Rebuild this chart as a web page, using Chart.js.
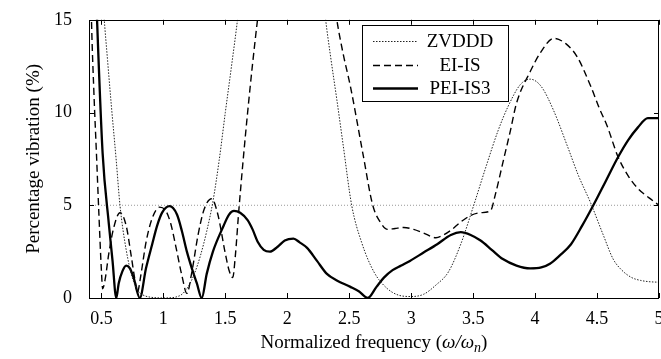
<!DOCTYPE html>
<html>
<head>
<meta charset="utf-8">
<script src="https://cdn.jsdelivr.net/npm/chart.js@4.4.0/dist/chart.umd.min.js"></script>
<style>
  html, body { margin: 0; padding: 0; background: #fff; }
  #wrap { width: 661px; height: 359px; }
</style>
</head>
<body>
<div id="wrap"><canvas id="chart" width="661" height="359"></canvas></div>
<script>
// tick labels
var xTicks = [0.5, 1, 1.5, 2, 2.5, 3, 3.5, 4, 4.5, 5];
var yTicks = [0, 5, 10, 15];

// ZVDDD (dotted)
var zvdddX = [0.50, 0.52, 0.55, 0.58, 0.62, 0.65, 0.70, 0.75, 0.80, 0.85, 0.90, 0.95, 1.00, 1.05, 1.10, 1.15, 1.20, 1.25, 1.30, 1.35, 1.40, 1.45, 1.50, 1.55, 1.60, 1.63,
              2.28, 2.31, 2.35, 2.40, 2.45, 2.52, 2.60, 2.70, 2.80, 2.90, 3.00, 3.10, 3.20, 3.30, 3.40, 3.50, 3.60, 3.70, 3.78, 3.88, 3.96, 4.05, 4.15, 4.26, 4.35, 4.45, 4.55, 4.63, 4.70, 4.78, 4.85, 4.92, 5.00];
var zvdddY = [17.5, 15.3, 12.8, 10.4, 7.4, 5.0, 2.6, 1.1, 0.35, 0.12, 0.04, 0.01, 0, 0.01, 0.05, 0.2, 0.6, 1.3, 2.3, 3.6, 5.2, 7.4, 10.0, 12.5, 15.1, 17,
              17, 15, 13, 10.7, 8.3, 5.0, 3.0, 1.4, 0.55, 0.15, 0.08, 0.2, 0.7, 1.4, 2.9, 4.9, 7.0, 9.0, 10.3, 11.5, 11.8, 11.4, 10.1, 8.2, 6.6, 5.1, 3.4, 2.1, 1.5, 1.1, 0.95, 0.88, 0.85];

// EI-IS (dashed)
var eiisX = [0.40, 0.42, 0.44, 0.46, 0.48, 0.50, 0.51, 0.53, 0.56, 0.60, 0.65, 0.70, 0.74, 0.77, 0.79, 0.82, 0.86, 0.91, 0.97, 1.02, 1.06, 1.10, 1.15, 1.19, 1.23, 1.28, 1.33, 1.39, 1.44, 1.50, 1.53, 1.56, 1.58, 1.61, 1.68, 1.76, 1.80,
             2.36, 2.40, 2.45, 2.51, 2.61, 2.69, 2.75, 2.81, 2.87, 2.94, 3.02, 3.10, 3.20, 3.26, 3.32, 3.40, 3.48, 3.56, 3.64, 3.68, 3.74, 3.80, 3.85, 3.96, 4.05, 4.15, 4.25, 4.34, 4.45, 4.52, 4.58, 4.67, 4.75, 4.83, 4.92, 5.00];
var eiisY = [22, 15, 11, 7.8, 4.5, 1.5, 0.5, 1.0, 2.4, 3.8, 4.6, 3.9, 2.3, 1.0, 0.3, 1.3, 3.0, 4.3, 4.9, 4.7, 4.0, 2.8, 1.2, 0.25, 1.4, 3.4, 4.8, 5.35, 4.5, 2.4, 1.5, 1.1, 2.2, 4.8, 10, 15, 17,
             17, 15, 13.2, 11.4, 7.8, 5.0, 4.1, 3.7, 3.75, 3.8, 3.7, 3.5, 3.25, 3.4, 3.65, 4.1, 4.45, 4.6, 4.7, 5.6, 7.3, 9.0, 10.5, 12.2, 13.3, 14.0, 13.7, 13.0, 11.4, 10.2, 9.3, 7.6, 6.6, 5.9, 5.4, 5.0];

// PEI-IS3 (solid)
var peiX = [0.40, 0.465, 0.51, 0.56, 0.59, 0.62, 0.64, 0.67, 0.70, 0.73, 0.76, 0.81, 0.86, 0.91, 0.95, 0.99, 1.05, 1.11, 1.15, 1.19, 1.23, 1.27, 1.31, 1.35, 1.40, 1.48, 1.53, 1.57, 1.62, 1.68, 1.72, 1.76, 1.81, 1.86, 1.92, 1.98, 2.05, 2.10, 2.16, 2.24, 2.32, 2.40, 2.51, 2.58, 2.65,
            2.72, 2.78, 2.85, 2.92, 2.99, 3.10, 3.21, 3.32, 3.40, 3.48, 3.56, 3.65, 3.74, 3.85, 3.96, 4.05, 4.12, 4.20, 4.29, 4.38, 4.47, 4.57, 4.67, 4.75, 4.83, 4.91, 5.00];
var peiY = [28, 15, 7.8, 4.0, 2.0, 0, 0.8, 1.45, 1.75, 1.6, 1.1, 0, 1.6, 2.9, 3.9, 4.6, 4.95, 4.5, 3.6, 2.5, 1.6, 0.8, 0, 1.3, 2.5, 3.8, 4.5, 4.7, 4.6, 4.2, 3.7, 3.05, 2.6, 2.5, 2.75, 3.1, 3.2, 3.0, 2.7, 2.0, 1.3, 0.95, 0.6, 0.35, 0,
            0.6, 1.1, 1.5, 1.75, 2.0, 2.45, 2.9, 3.4, 3.55, 3.4, 3.1, 2.6, 2.1, 1.75, 1.6, 1.65, 1.85, 2.3, 2.9, 3.9, 5.0, 6.3, 7.6, 8.5, 9.2, 9.7, 9.7];

// 5% limit line
var limitX = [0.4, 5];
var limitY = [5, 5];

function pts(xs, ys) {
    return xs.map(function(x, i) { return { x: x, y: ys[i] }; });
}

var serif = "'Liberation Serif', 'Times New Roman', serif";

// box + inward ticks, MATLAB style
var framePlugin = {
    id: 'frame',
    afterDatasetsDraw: function(chart) {
        var ctx = chart.ctx, a = chart.chartArea;
        var sx = chart.scales.x, sy = chart.scales.y;
        var tl = 5;
        ctx.save();
        ctx.strokeStyle = '#000';
        ctx.lineWidth = 1;
        ctx.beginPath();
        xTicks.forEach(function(v) {
            var px = Math.round(sx.getPixelForValue(v)) + 0.5;
            ctx.moveTo(px, a.bottom); ctx.lineTo(px, a.bottom - tl);
            ctx.moveTo(px, a.top); ctx.lineTo(px, a.top + tl);
        });
        yTicks.forEach(function(v) {
            var py = Math.round(sy.getPixelForValue(v)) + 0.5;
            ctx.moveTo(a.left, py); ctx.lineTo(a.left + tl, py);
            ctx.moveTo(a.right, py); ctx.lineTo(a.right - tl, py);
        });
        ctx.stroke();
        ctx.strokeRect(Math.round(a.left) + 0.5, Math.round(a.top) + 0.5, Math.round(a.right - a.left) - 1, Math.round(a.bottom - a.top));
        ctx.restore();
    }
};

// legend box inside the plot
var legendPlugin = {
    id: 'boxLegend',
    afterDatasetsDraw: function(chart) {
        var ctx = chart.ctx;
        var bx = 362, by = 25, bw = 146, bh = 76;
        ctx.save();
        ctx.fillStyle = '#fff';
        ctx.fillRect(bx, by, bw, bh);
        ctx.strokeStyle = '#000';
        ctx.lineWidth = 1;
        ctx.strokeRect(bx + 0.5, by + 0.5, bw, bh);
        ctx.font = '19px ' + serif;
        ctx.textAlign = 'center';
        ctx.textBaseline = 'middle';
        ctx.fillStyle = '#000';
        var rows = [41, 65, 88];
        [0, 1, 2].forEach(function(i) {
            var ds = chart.data.datasets[i];
            ctx.beginPath();
            ctx.setLineDash(ds.borderDash || []);
            ctx.lineWidth = ds.borderWidth;
            ctx.strokeStyle = ds.borderColor;
            ctx.moveTo(373, rows[i] + 0.5);
            ctx.lineTo(418, rows[i] + 0.5);
            ctx.stroke();
            ctx.setLineDash([]);
            ctx.fillText(ds.label, 460, rows[i] + 1);
        });
        ctx.restore();
    }
};

// x axis title with italic omega and subscript n
var xTitlePlugin = {
    id: 'xTitle',
    afterDraw: function(chart) {
        var ctx = chart.ctx, a = chart.chartArea;
        var parts = [
            { t: 'Normalized frequency (', f: '19px ' + serif, dy: 0 },
            { t: 'ω/ω', f: 'italic 19px ' + serif, dy: 0 },
            { t: 'n', f: 'italic 14px ' + serif, dy: 4 },
            { t: ')', f: '19px ' + serif, dy: 0 }
        ];
        ctx.save();
        ctx.fillStyle = '#000';
        ctx.textBaseline = 'alphabetic';
        var w = 0;
        parts.forEach(function(p) { ctx.font = p.f; p.w = ctx.measureText(p.t).width; w += p.w; });
        var x = (a.left + a.right) / 2 - w / 2, y = 348;
        parts.forEach(function(p) {
            ctx.font = p.f;
            ctx.fillText(p.t, x, y + p.dy);
            x += p.w;
        });
        ctx.restore();
    }
};

var ctx = document.getElementById('chart').getContext('2d');
new Chart(ctx, {
    type: 'line',
    data: {
        datasets: [
            { label: 'ZVDDD', data: pts(zvdddX, zvdddY), borderColor: '#222', borderWidth: 1, borderDash: [1.5, 1.5] },
            { label: 'EI-IS', data: pts(eiisX, eiisY), borderColor: '#000', borderWidth: 1.4, borderDash: [7, 4] },
            { label: 'PEI-IS3', data: pts(peiX, peiY), borderColor: '#000', borderWidth: 2.3 },
            { label: 'limit', data: pts(limitX, limitY), borderColor: '#999', borderWidth: 1, borderDash: [1, 2], cubicInterpolationMode: 'default', tension: 0 }
        ]
    },
    options: {
        responsive: false,
        animation: false,
        devicePixelRatio: 1,
        layout: { padding: { top: 14, right: 2, left: 0, bottom: 0 } },
        elements: {
            point: { radius: 0 },
            line: { cubicInterpolationMode: 'monotone', fill: false }
        },
        datasets: { line: { clip: 0 } },
        plugins: {
            legend: { display: false },
            tooltip: { enabled: false }
        },
        scales: {
            x: {
                type: 'linear',
                min: 0.4,
                max: 5,
                afterBuildTicks: function(s) { s.ticks = xTicks.map(function(v) { return { value: v }; }); },
                afterFit: function(s) { s.height = 61; s.paddingLeft = 0; s.paddingRight = 0; },
                grid: { display: false },
                border: { display: false },
                ticks: {
                    autoSkip: false,
                    maxRotation: 0,
                    padding: 2,
                    color: '#000',
                    font: { family: serif, size: 18 },
                    callback: function(v) { return String(v); }
                },
                title: { display: false }
            },
            y: {
                type: 'linear',
                min: 0,
                max: 15,
                afterBuildTicks: function(s) { s.ticks = yTicks.map(function(v) { return { value: v }; }); },
                afterFit: function(s) { s.width = 89; },
                grid: { display: false },
                border: { display: false },
                ticks: {
                    padding: 9,
                    color: '#000',
                    font: { family: serif, size: 18 }
                },
                title: {
                    display: true,
                    text: 'Percentage vibration (%)',
                    color: '#000',
                    font: { family: serif, size: 19 },
                    padding: { top: 23, bottom: 0 }
                }
            }
        }
    },
    plugins: [framePlugin, legendPlugin, xTitlePlugin]
});
</script>
</body>
</html>
